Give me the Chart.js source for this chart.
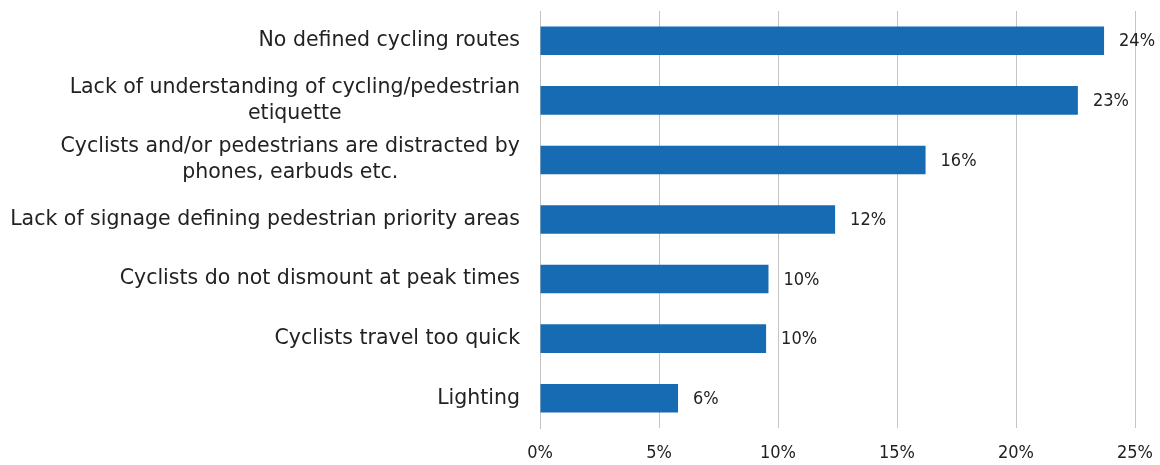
<!DOCTYPE html>
<html>
<head>
<meta charset="utf-8">
<script src="https://cdn.jsdelivr.net/npm/chart.js@4.4.0/dist/chart.umd.min.js"></script>
<style>
  html, body { margin: 0; padding: 0; background: #fff; }
  #wrap { width: 1160px; height: 465px; }
</style>
</head>
<body>
<div id="wrap"><canvas id="grafico" width="1160" height="465"></canvas></div>
<script>
// ===== DADOS =====
const categorias = [
  ['No defined cycling routes'],
  ['Lack of understanding of cycling/pedestrian', 'etiquette'],
  ['Cyclists and/or pedestrians are distracted by', 'phones, earbuds etc.'],
  ['Lack of signage defining pedestrian priority areas'],
  ['Cyclists do not dismount at peak times'],
  ['Cyclists travel too quick'],
  ['Lighting']
];
const valores = [23.7, 22.6, 16.2, 12.4, 9.6, 9.5, 5.8];
const ticksX = [0, 5, 10, 15, 20, 25];

const FONTE_ROT = '"DejaVu Sans", sans-serif';
const FONTE = '"DejaVu Sans Condensed", "DejaVu Sans", sans-serif';
const COR_TEXTO = '#222';

// rótulos das categorias (linhas centradas entre si, bloco alinhado à direita)
const rotulosY = {
  id: 'rotulosY',
  afterDraw(chart) {
    const c = chart.ctx;
    const y = chart.scales.y;
    const xDir = y.right - 20;
    c.save();
    c.font = '20.5px ' + FONTE_ROT;
    c.fillStyle = COR_TEXTO;
    c.textAlign = 'center';
    c.textBaseline = 'middle';
    categorias.forEach((linhas, i) => {
      const yc = y.getPixelForValue(i);
      const larg = Math.max(...linhas.map(l => c.measureText(l).width));
      const xc = xDir - larg / 2;
      const alt = 26;
      linhas.forEach((l, k) => {
        c.fillText(l, xc, yc + (k - (linhas.length - 1) / 2) * alt);
      });
    });
    c.restore();
  }
};

// valores no fim das barras
const rotulosValor = {
  id: 'rotulosValor',
  afterDatasetsDraw(chart) {
    const c = chart.ctx;
    const meta = chart.getDatasetMeta(0);
    c.save();
    c.font = '18px ' + FONTE;
    c.fillStyle = COR_TEXTO;
    c.textAlign = 'left';
    c.textBaseline = 'middle';
    meta.data.forEach((barra, i) => {
      c.fillText(Math.round(valores[i]) + '%', barra.x + 15, barra.y + 1);
    });
    c.restore();
  }
};

new Chart(document.getElementById('grafico'), {
  type: 'bar',
  data: {
    labels: categorias.map(l => l.join(' ')),
    datasets: [{
      data: valores,
      backgroundColor: '#176bb2',
      categoryPercentage: 1,
      barPercentage: 0.48
    }]
  },
  options: {
    indexAxis: 'y',
    responsive: false,
    animation: false,
    layout: { padding: { top: 11, right: 25, bottom: 0, left: 0 } },
    plugins: {
      legend: { display: false },
      tooltip: { enabled: false },
      title: { display: false }
    },
    scales: {
      x: {
        min: 0,
        max: 25,
        afterBuildTicks(scale) { scale.ticks = ticksX.map(v => ({ value: v })); },
        afterFit(scale) {
          scale.height = 37;
          scale.paddingRight = 0;
          scale.paddingLeft = 0;
        },
        ticks: {
          padding: 15,
          color: COR_TEXTO,
          font: { family: FONTE, size: 18 },
          callback: v => v + '%'
        },
        grid: { color: '#c4c4c4', drawTicks: false },
        border: { display: false }
      },
      y: {
        afterFit(scale) { scale.width = 540; },
        ticks: { display: false },
        grid: { display: false },
        border: { display: true, color: '#c4c4c4' }
      }
    }
  },
  plugins: [rotulosY, rotulosValor]
});
</script>
</body>
</html>
